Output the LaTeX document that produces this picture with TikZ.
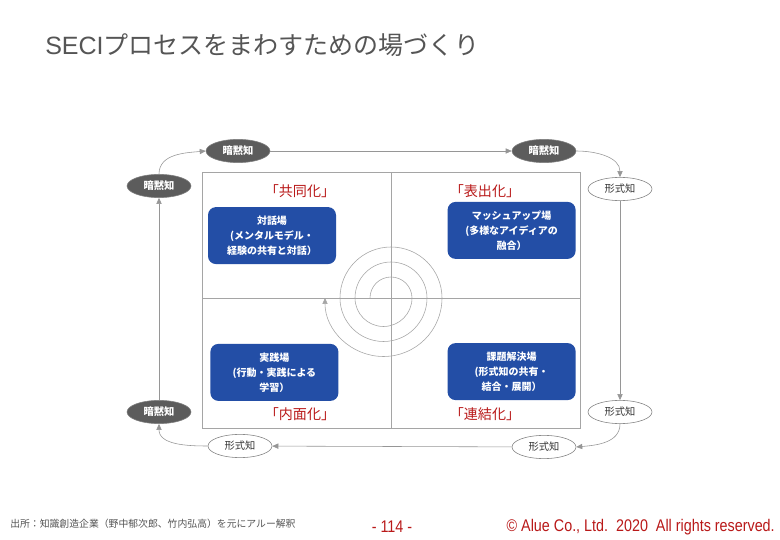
\documentclass[tikz,border=0pt]{standalone}
\usepackage{fontspec}
\setmainfont{Noto Sans CJK JP}
\newfontfamily\latinfont{Liberation Sans}
\newfontfamily\narrowfont[FakeStretch=0.85]{Liberation Sans}
\usetikzlibrary{positioning,shapes.geometric,arrows.meta}
\definecolor{Slate}{RGB}{85,85,85}
\definecolor{Ink}{RGB}{51,51,51}
\definecolor{Smoke}{RGB}{92,92,92}
\definecolor{Rim}{RGB}{128,128,128}
\definecolor{Wire}{RGB}{150,150,150}
\definecolor{Frame}{RGB}{165,165,165}
\definecolor{Cobalt}{RGB}{35,78,166}
\definecolor{Brick}{RGB}{185,25,25}

\begin{document}
\begin{tikzpicture}[
    tacit/.style={ellipse,draw=Rim,fill=Smoke,minimum width=1.6cm,minimum height=0.58cm,inner sep=0pt,text=white,font=\fontsize{7.3}{8}\selectfont\bfseries},
    explicit/.style={ellipse,draw=Rim,fill=white,minimum width=1.6cm,minimum height=0.58cm,inner sep=0pt,text=Ink,font=\fontsize{7.3}{8}\selectfont},
    ba/.style={rectangle,rounded corners=0.2cm,fill=Cobalt,minimum width=3.2cm,minimum height=1.425cm,align=center,text=white,font=\fontsize{7.1}{10.7}\selectfont\bfseries},
    phase/.style={text=Brick,font=\fontsize{10}{12}\selectfont},
    flow/.style={-{Triangle[length=1.5mm,width=1.3mm]},Wire},
    spiral/.style={-{Triangle[length=1.5mm,width=1.3mm]},Frame}
]
\fill[white] (0,0) rectangle (19.5,13.5);
\useasboundingbox (0,0) rectangle (19.5,13.5);

% Title
\node[anchor=west,text=Slate,font=\fontsize{17.8}{20}\selectfont,inner sep=0pt] (title) at (1.125,12.375) {{\latinfont SECI}プロセスをまわすための場づくり};

% Quadrants
\draw[Frame] (5.05,2.8) rectangle (14.5,9.2);
\draw[Frame] (5.05,6.05) -- (14.5,6.05);
\draw[Frame] (9.775,2.8) -- (9.775,9.2);

% Spiral
\coordinate (ctr) at (9.775,6.05);
\draw[spiral] ([xshift=-0.525cm]ctr) arc (180:0:0.525) arc (0:-180:0.7125)
    arc (180:0:0.9) arc (0:-180:1.0875) arc (180:0:1.275) arc (0:-180:1.4625);

% Ba boxes
\node[ba] (b-soc) at (6.8,7.61) {対話場\\(メンタルモデル・\\経験の共有と対話）};
\node[ba] (b-ext) at (12.79,7.74) {マッシュアップ場\\(多様なアイディアの\\融合）};
\node[ba] (b-int) at (6.86,4.19) {実践場\\(行動・実践による\\学習）};
\node[ba] (b-com) at (12.79,4.21) {課題解決場\\(形式知の共有・\\結合・展開）};

% Phase labels
\node[phase] (p-soc) at (7.5,8.71) {「共同化」};
\node[phase] (p-ext) at (12.125,8.71) {「表出化」};
\node[phase] (p-int) at (7.5,3.14) {「内面化」};
\node[phase] (p-com) at (12.125,3.14) {「連結化」};

% Knowledge cycle
\node[tacit] (k-tl) at (3.975,8.85) {暗黙知};
\node[tacit] (k-t) at (5.95,9.725) {暗黙知};
\node[tacit] (k-tr) at (13.6,9.725) {暗黙知};
\node[explicit] (k-r1) at (15.5,8.775) {形式知};
\node[explicit] (k-r2) at (15.5,3.2) {形式知};
\node[explicit] (k-br) at (13.6,2.325) {形式知};
\node[explicit] (k-bl) at (6.0,2.35) {形式知};
\node[tacit] (k-l) at (3.975,3.2) {暗黙知};

\draw[flow] (k-tl.north) to[out=90,in=185] (k-t.west);
\draw[flow] (k-t) -- (k-tr);
\draw[flow] (k-tr.east) to[out=0,in=90] (k-r1.north);
\draw[flow] (k-r1) -- (k-r2);
\draw[flow] (k-r2.south) to[out=-90,in=5] (k-br.east);
\draw[flow] (k-br) -- (k-bl);
\draw[flow] (k-bl.west) to[out=180,in=-90] (k-l.south);
\draw[flow] (k-l) -- (k-tl);

% Footer
\node[anchor=west,text=Slate,font=\fontsize{7}{8}\selectfont,inner sep=0pt] (src) at (0.25,0.4) {出所：知識創造企業（野中郁次郎、竹内弘高）を元にアルー解釈};
\node[text=Brick,font=\narrowfont\fontsize{12}{14}\selectfont,inner sep=0pt] (page) at (9.8,0.325) {- 114 -};
\node[anchor=east,text=Brick,font=\narrowfont\fontsize{12}{14}\selectfont,inner sep=0pt] (copy) at (19.375,0.325) {© Alue Co., Ltd.\ \ 2020\ \ All rights reserved.};

\end{tikzpicture}
\end{document}
